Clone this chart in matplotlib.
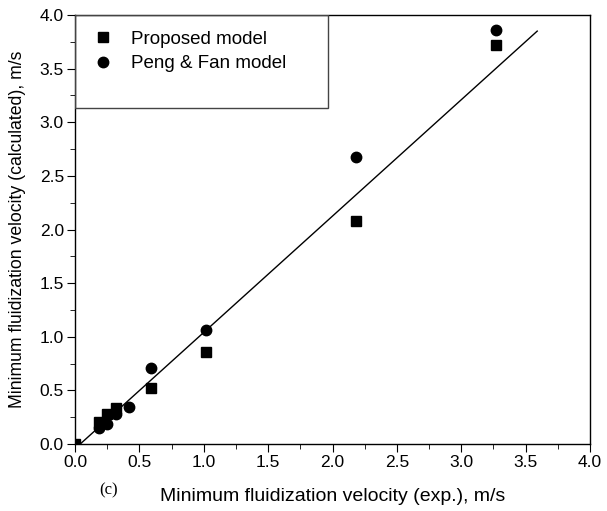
import matplotlib
matplotlib.use("Agg")
import matplotlib.pyplot as plt
from matplotlib.patches import Rectangle
from matplotlib.ticker import MultipleLocator

plt.rcParams["font.family"] = ["Liberation Sans", "DejaVu Sans"]

# experimental vs calculated minimum fluidization velocity, m/s
proposed_x = [0.0, 0.19, 0.25, 0.32, 0.59, 1.02, 2.18, 3.27]
proposed_y = [0.0, 0.21, 0.28, 0.34, 0.52, 0.86, 2.08, 3.72]
peng_x = [0.19, 0.25, 0.32, 0.42, 0.59, 1.02, 2.18, 3.27]
peng_y = [0.15, 0.19, 0.28, 0.35, 0.71, 1.06, 2.68, 3.86]
fit_x = [0.04, 3.59]
fit_y = [0.0, 3.85]

fig = plt.figure(figsize=(6.07, 5.11), dpi=100)
ax = fig.add_axes([0.1236, 0.131, 0.8484, 0.8396])

ax.plot(fit_x, fit_y, color="black", lw=1.0)
ax.plot(proposed_x, proposed_y, "s", color="black", ms=6.5, label="Proposed model")
ax.plot(peng_x, peng_y, "o", color="black", ms=7.5, label="Peng & Fan model")

ax.set_xlim(0, 4.0)
ax.set_ylim(0, 4.0)
ax.xaxis.set_major_locator(MultipleLocator(0.5))
ax.xaxis.set_minor_locator(MultipleLocator(0.25))
ax.yaxis.set_major_locator(MultipleLocator(0.5))
ax.yaxis.set_minor_locator(MultipleLocator(0.25))
ax.xaxis.set_major_formatter(lambda v, p: f"{v:.1f}")
ax.yaxis.set_major_formatter(lambda v, p: f"{v:.1f}")
ax.tick_params(which="both", direction="out", top=False, right=False, labelsize=12.5, pad=2)
ax.tick_params(which="major", length=6)
ax.tick_params(which="minor", length=3.5)
for s in ax.spines.values():
    s.set_linewidth(1.0)

ax.set_xlabel("Minimum fluidization velocity (exp.), m/s", fontsize=14, labelpad=13)
ax.set_ylabel("Minimum fluidization velocity (calculated), m/s", fontsize=12.7, labelpad=10)

# legend box
ax.add_patch(Rectangle((0, 0.783), 0.491, 0.217, transform=ax.transAxes,
                       fill=False, edgecolor="#444444", lw=1.0, zorder=5))
ax.legend(loc="upper left", bbox_to_anchor=(0.004, 1.003), frameon=False,
          fontsize=13.5, handletextpad=1.0, labelspacing=0.4, handlelength=1.0)

fig.text(0.163, 0.032, "(c)", fontsize=12, family=["Liberation Serif", "DejaVu Serif"])

fig.savefig("out.png", dpi=100)
